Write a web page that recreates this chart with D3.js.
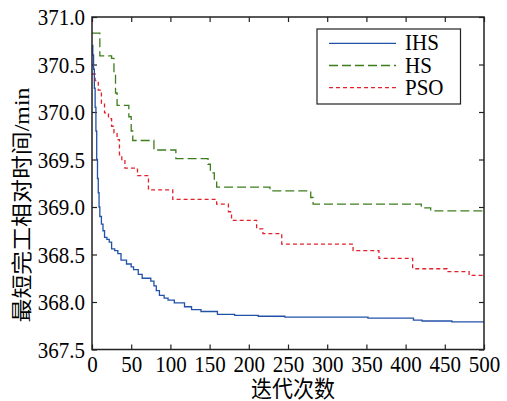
<!DOCTYPE html>
<html lang="zh">
<head>
<meta charset="UTF-8">
<title>迭代次数 - 最短完工相对时间</title>
<script src="https://cdn.jsdelivr.net/npm/d3@7/dist/d3.min.js"></script>
<style>
  body { margin: 0; background: #fff; }
  svg text { font-family: 'Liberation Serif', 'Noto Sans CJK SC', serif; fill: #000; }
</style>
</head>
<body>
<div id="plot"></div>
<script>
// values: [iteration, best relative makespan]
const ihs = [
  [0, 370.70], [1, 370.60], [2, 370.45], [3, 370.25], [4, 370.05], [5, 369.80],
  [6, 369.50], [7, 369.30], [8, 369.15], [9, 369.00], [10, 368.90], [12, 368.82],
  [14, 368.75], [16, 368.68], [19, 368.66], [22, 368.63], [25, 368.56], [29, 368.54],
  [33, 368.51], [37, 368.44], [44, 368.40], [50, 368.37], [53, 368.34], [59, 368.29],
  [64, 368.25], [75, 368.22], [79, 368.17], [82, 368.12], [86, 368.07], [92, 368.04],
  [97, 368.02], [105, 367.99], [118, 367.95], [127, 367.92], [139, 367.90], [160, 367.87],
  [182, 367.86], [212, 367.85], [246, 367.84], [352, 367.83], [410, 367.81], [421, 367.80],
  [459, 367.79], [500, 367.79]
];
const hs = [
  [0, 370.83], [10, 370.59], [25, 370.565], [28, 370.40], [30, 370.20], [32, 370.07],
  [47, 369.95], [50, 369.80], [52, 369.70], [79, 369.60], [107, 369.51], [148, 369.45],
  [151, 369.36], [156, 369.27], [159, 369.21], [227, 369.17], [279, 369.10], [282, 369.03],
  [420, 368.99], [432, 368.96], [500, 368.96]
];
const pso = [
  [0, 370.40], [4, 370.33], [8, 370.23], [12, 370.09], [16, 369.99], [21, 369.93],
  [25, 369.85], [28, 369.78], [32, 369.71], [35, 369.55], [38, 369.50], [42, 369.41],
  [58, 369.33], [72, 369.18], [103, 369.08], [159, 369.03], [174, 368.95], [178, 368.86],
  [210, 368.77], [218, 368.72], [242, 368.61], [333, 368.54], [366, 368.46], [409, 368.35],
  [453, 368.32], [481, 368.28], [500, 368.28]
];
const seriesNames = ['IHS', 'HS', 'PSO'];
const xTicks = [0, 50, 100, 150, 200, 250, 300, 350, 400, 450, 500];
const yTicks = [367.5, 368.0, 368.5, 369.0, 369.5, 370.0, 370.5, 371.0];

const W = 507, H = 401;
const box = { left: 92, right: 484, top: 17, bottom: 349.5 };
const fs = 21, sy = 1.1; // text looks slightly stretched vertically in the source

const svg = d3.select('#plot').append('svg')
  .attr('width', W).attr('height', H);

const x = d3.scaleLinear().domain([0, 500]).range([box.left, box.right]);
const y = d3.scaleLinear().domain([367.5, 371]).range([box.bottom, box.top]);

// axes, ticks pointing inward on all four sides
const tk = 5;
const gBottom = svg.append('g').attr('transform', `translate(0,${box.bottom})`)
  .call(d3.axisBottom(x).tickValues(xTicks).tickSizeInner(-tk).tickSizeOuter(0));
const gTop = svg.append('g').attr('transform', `translate(0,${box.top})`)
  .call(d3.axisTop(x).tickValues(xTicks).tickSizeInner(-tk).tickSizeOuter(0).tickFormat(''));
const gLeft = svg.append('g').attr('transform', `translate(${box.left},0)`)
  .call(d3.axisLeft(y).tickValues(yTicks).tickSizeInner(-tk).tickSizeOuter(0).tickFormat(d3.format('.1f')));
const gRight = svg.append('g').attr('transform', `translate(${box.right},0)`)
  .call(d3.axisRight(y).tickValues(yTicks).tickSizeInner(-tk).tickSizeOuter(0).tickFormat(''));

[gBottom, gTop, gLeft, gRight].forEach(g => {
  g.select('.domain').remove();
  g.selectAll('line').attr('stroke', '#222').attr('stroke-width', 1.2);
});

gBottom.selectAll('text')
  .attr('y', null).attr('dy', null)
  .attr('transform', `translate(0,22) scale(1,${sy})`)
  .style('font-size', fs + 'px');
gLeft.selectAll('text')
  .attr('x', null).attr('dy', null)
  .attr('transform', `translate(-7,7.5) scale(1,${sy})`)
  .style('font-size', fs + 'px');

// series
const line = d3.line().x(d => x(d[0])).y(d => y(d[1])).curve(d3.curveStepAfter);
const styles = [
  { data: ihs, color: '#2251a8', dash: null },
  { data: hs, color: '#3c7d1c', dash: '9,4' },
  { data: pso, color: '#e2212b', dash: '4,3' }
];
[2, 1, 0].forEach(i => {
  svg.append('path')
    .datum(styles[i].data)
    .attr('d', line)
    .attr('fill', 'none')
    .attr('stroke', styles[i].color)
    .attr('stroke-width', 1.3)
    .attr('stroke-dasharray', styles[i].dash);
});

// frame
svg.append('rect')
  .attr('x', box.left).attr('y', box.top)
  .attr('width', box.right - box.left).attr('height', box.bottom - box.top)
  .attr('fill', 'none').attr('stroke', '#222').attr('stroke-width', 1.5);

// legend
const lg = svg.append('g');
lg.append('rect')
  .attr('x', 317).attr('y', 29).attr('width', 143.5).attr('height', 75)
  .attr('fill', '#fff').attr('stroke', '#222').attr('stroke-width', 1.2);
seriesNames.forEach((name, i) => {
  const cy = 43.3 + i * 22.2;
  lg.append('line')
    .attr('x1', 329).attr('x2', 396).attr('y1', cy).attr('y2', cy)
    .attr('stroke', styles[i].color).attr('stroke-width', 1.3)
    .attr('stroke-dasharray', styles[i].dash);
  lg.append('text')
    .attr('transform', `translate(405,${cy + 7}) scale(1,${sy})`)
    .style('font-size', fs + 'px')
    .text(name);
});

// axis titles
svg.append('text')
  .attr('transform', `translate(293,397) scale(1,${sy})`)
  .attr('text-anchor', 'middle')
  .style('font-size', fs + 'px')
  .text('迭代次数');

svg.append('text')
  .attr('transform', 'translate(29,205) rotate(-90)')
  .attr('text-anchor', 'middle')
  .attr('textLength', 235)
  .attr('lengthAdjust', 'spacingAndGlyphs')
  .style('font-size', fs + 'px')
  .text('最短完工相对时间/min');
</script>
</body>
</html>
